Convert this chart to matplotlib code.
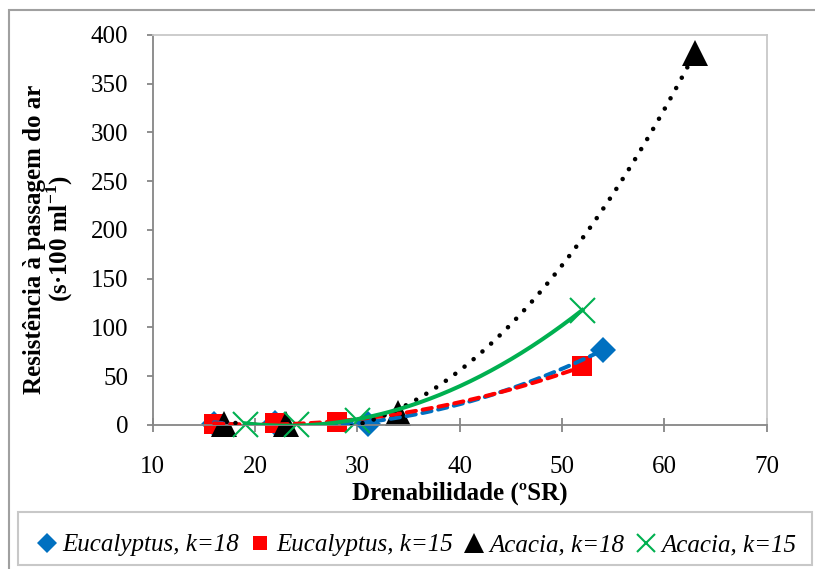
import numpy as np
import matplotlib
matplotlib.use("Agg")
import matplotlib.pyplot as plt
from matplotlib.patches import Rectangle

plt.rcParams["font.family"] = ["Liberation Serif", "DejaVu Serif"]
plt.rcParams["mathtext.fontset"] = "custom"
plt.rcParams["mathtext.rm"] = "Liberation Serif"
plt.rcParams["mathtext.bf"] = "Liberation Serif:bold"

# data (drainability ºSR vs air resistance)
euc18_x = [16, 22, 31, 54]
euc18_y = [1, 2, 1, 77]
euc15_x = [16, 22, 28, 52]
euc15_y = [1, 2, 3, 60]
aca18_x = [17, 23, 34, 63]
aca18_y = [1, 1, 12, 382]
aca15_x = [19, 24, 30, 52]
aca15_y = [1, 1, 5, 118]

labels = ["Eucalyptus, k=18", "Eucalyptus, k=15", "Acacia, k=18", "Acacia, k=15"]

BLUE = "#0070C0"
RED = "#FF0000"
BLACK = "#000000"
GREEN = "#00B050"

fig = plt.figure(figsize=(8.15, 5.69), dpi=100)
ax = fig.add_axes([0.1874, 0.2531, 0.9405 - 0.1874, 0.9385 - 0.2531])

dash = dict(linestyle=(0, (2.3, 1.7)), dash_capstyle="round")
series = [
    (euc18_x, euc18_y, BLUE, "D", 13, dash),
    (euc15_x, euc15_y, RED, "s", 14, dash),
    (aca18_x, aca18_y, BLACK, "^", 19, dict(linestyle=(0, (0.01, 2.55)), dash_capstyle="round")),
    (aca15_x, aca15_y, GREEN, "x", 18, dict(linestyle="-")),
]

handles = []
for (xs, ys, c, m, ms, ls), lab in zip(series, labels):
    mew = 1.5 if m == "x" else 0
    h, = ax.plot(xs, ys, linestyle="none", marker=m, color=c, markersize=ms,
                 markeredgewidth=mew, clip_on=False, zorder=2, label=lab)
    handles.append(h)

# second-order polynomial trend lines (Excel style)
for xs, ys, c, m, ms, ls in series:
    coef = np.polyfit(xs, ys, 2)
    xx = np.linspace(min(xs), max(xs), 200)
    lw = 3.3 if c == BLACK else 2.9
    ax.plot(xx, np.polyval(coef, xx), color=c, lw=lw, zorder=3, **ls)

ax.set_xlim(10, 70)
ax.set_ylim(0, 400)
ax.set_xticks(range(10, 71, 10))
ax.set_yticks(range(0, 401, 50))

for side in ["left", "bottom"]:
    ax.spines[side].set_color("#868686")
    ax.spines[side].set_linewidth(1.3)
for side in ["top", "right"]:
    ax.spines[side].set_color("#c8c8c8")
    ax.spines[side].set_linewidth(1.3)

ax.tick_params(axis="y", direction="out", length=4.5, width=1.3, color="#868686",
               labelsize=18, pad=13)
ax.tick_params(axis="x", direction="inout", length=10, width=1.3, color="#868686",
               labelsize=18, pad=17)

ax.set_xlabel("Drenabilidade (ºSR)", fontsize=18, fontweight="bold", labelpad=3)
ax.set_ylabel("Resistência à passagem do ar\n(s·100 ml$^{\\mathbf{-1}}$)", fontsize=18,
              fontweight="bold", linespacing=0.93)
ax.yaxis.set_label_coords(-0.127, 0.477)

leg = fig.legend(handles=handles, loc="center", bbox_to_anchor=(0.512, 0.042), ncol=4,
                 prop={"style": "italic", "size": 18}, frameon=False,
                 handlelength=0.7, handletextpad=0.28, columnspacing=0.5, borderpad=0.2,
                 markerscale=0.75)

# legend box and chart-area border
fig.patches.append(Rectangle((18 / 815, 1 - 565 / 569), 794 / 815, 53 / 569,
                             transform=fig.transFigure, fill=False,
                             edgecolor="#c8c8c8", linewidth=1.5))
fig.patches.append(Rectangle((9 / 815, -0.1), 1.2, 1 - 10 / 569 + 0.1, transform=fig.transFigure,
                             fill=False, edgecolor="#a0a0a0", linewidth=1.5))

fig.savefig("out.png", dpi=100)
